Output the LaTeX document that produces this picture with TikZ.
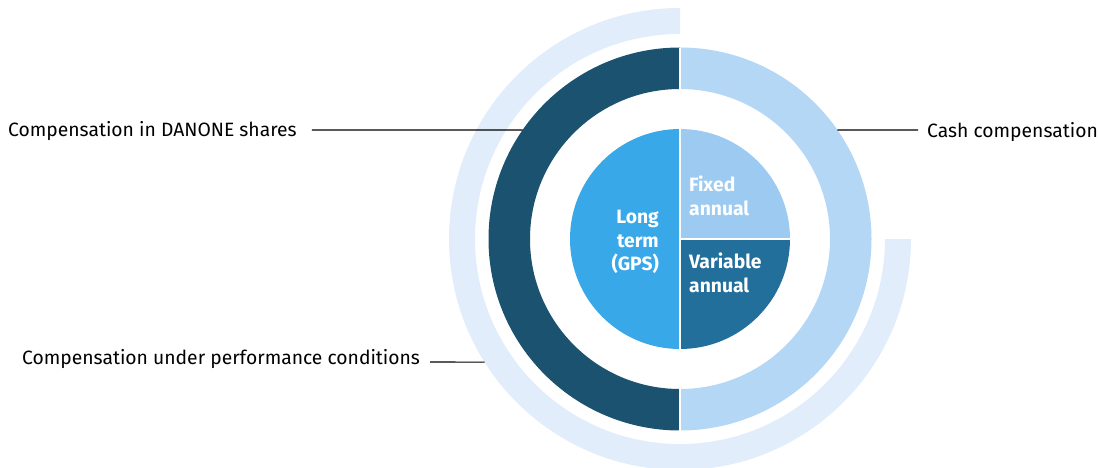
\documentclass[tikz,border=0pt]{standalone}
\usepackage{fontspec}
\setmainfont{Fira Sans}
\usepackage{tikz}
\usetikzlibrary{calc}

\definecolor{ringouter}{HTML}{E1EDFA}
\definecolor{ringdark}{HTML}{1B5270}
\definecolor{ringlight}{HTML}{B3D7F4}
\definecolor{pielong}{HTML}{38A8E9}
\definecolor{piefixed}{HTML}{9CCAF0}
\definecolor{pievar}{HTML}{236F9B}

\begin{document}
\begin{tikzpicture}[
    x=1pt, y=1pt,
    lbl/.style={inner sep=0pt, font=\fontsize{19.3}{21}\selectfont, anchor=west},
    inlbl/.style={inner sep=0pt, text=white, font=\fontsize{19.3}{23.5}\selectfont\bfseries},
    leader/.style={line width=1.1pt, black},
    sep/.style={white, line width=1.6pt}
]
    \useasboundingbox (0,0) rectangle (1098,-467);
    \coordinate (c) at (680,-239);

    % outer ring, three quarters
    \fill[ringouter] (c) ++(90:231) arc[start angle=90, end angle=360, radius=231]
        -- ++(-26,0) arc[start angle=360, end angle=90, radius=205] -- cycle;

    % middle ring
    \fill[ringlight] (c) ++(-90:191.5) arc[start angle=-90, end angle=90, radius=191.5]
        -- ++(0,-41.5) arc[start angle=90, end angle=-90, radius=150] -- cycle;
    \fill[ringdark] (c) ++(90:191.5) arc[start angle=90, end angle=270, radius=191.5]
        -- ++(0,41.5) arc[start angle=270, end angle=90, radius=150] -- cycle;

    % pie
    \fill[pielong] (c) -- ++(90:110) arc[start angle=90, end angle=270, radius=110] -- cycle;
    \fill[piefixed] (c) -- ++(0:110) arc[start angle=0, end angle=90, radius=110] -- cycle;
    \fill[pievar] (c) -- ++(-90:110) arc[start angle=-90, end angle=0, radius=110] -- cycle;

    \coordinate (top) at ($(c)+(0,191.5)$);
    \coordinate (bot) at ($(c)+(0,-191.5)$);
    \coordinate (rgt) at ($(c)+(110,0)$);
    \draw[sep] (top) -- (bot);
    \draw[sep] (c) -- (rgt);

    \node[inlbl, align=right, anchor=east] (long) at (659,-242) {Long\\term\\(GPS)};
    \node[inlbl, align=left, anchor=west] (fixed) at (689,-196) {Fixed\\annual};
    \node[inlbl, align=left, anchor=west] (var) at (689,-273) {Variable\\annual};

    \node[lbl] (shares) at (8,-131) {Compensation in DANONE shares};
    \node[lbl] (perf) at (22,-359) {Compensation under performance conditions};
    \node[lbl] (cash) at (927,-132) {Cash compensation};

    \coordinate (sharesend) at ($(c)+(145.3:191.5)$);
    \coordinate (perfend) at ($(c)+(212.2:231)$);
    \coordinate (cashend) at ($(c)+(34.7:191.5)$);

    \draw[leader] ([xshift=15pt,yshift=1pt]shares.east) -- (sharesend);
    \draw[leader] ([xshift=10pt,yshift=-3pt]perf.east) -- (perfend);
    \draw[leader] ([xshift=-9pt,yshift=2pt]cash.west) -- (cashend);
\end{tikzpicture}
\end{document}
